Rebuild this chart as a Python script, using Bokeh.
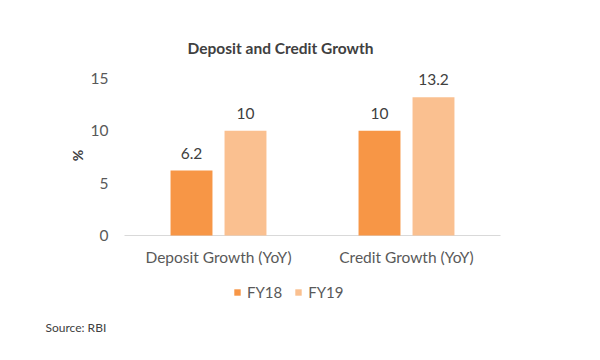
import math
from bokeh.plotting import figure
from bokeh.models import ColumnDataSource, Range1d, Label, Legend, LegendItem
from bokeh.transform import dodge
from bokeh.core.properties import value
from bokeh.embed import file_html
from bokeh.resources import INLINE

categories = ["Deposit Growth (YoY)", "Credit Growth (YoY)"]
series_names = ["FY18", "FY19"]
fy18 = [6.2, 10]
fy19 = [10, 13.2]
y_ticks = [0, 5, 10, 15]

FONT = "Lato"
C18 = "#F79646"
C19 = "#FAC090"
TXT = "#595959"
DARK = "#404040"

W, H = 584, 344
PX_X = 188.0      # pixels per category
PX_Y = 10.47      # pixels per percent
X0, Y0 = 218.0, 235.0   # pixel of first category centre / of value 0

idx = list(range(len(categories)))
src = ColumnDataSource(dict(
    x=idx,
    cat=categories,
    fy18=fy18,
    fy19=fy19,
    l18=[f"{v:g}" for v in fy18],
    l19=[f"{v:g}" for v in fy19],
))
tick_src = ColumnDataSource(dict(y=y_ticks, t=[str(t) for t in y_ticks]))

p = figure(width=W, height=H, output_backend="svg", toolbar_location=None,
           x_range=Range1d(-X0 / PX_X, (W - X0) / PX_X),
           y_range=Range1d(-(H - Y0) / PX_Y, Y0 / PX_Y),
           min_border=0, x_axis_type=None, y_axis_type=None)
p.outline_line_color = None
p.background_fill_color = "white"
p.border_fill_color = "white"
p.xgrid.grid_line_color = None
p.ygrid.grid_line_color = None

bw = 0.223
off = 0.1436
# baseline (category axis line)
p.segment(x0=[-0.5], y0=[0], x1=[len(categories) - 0.5], y1=[0],
          line_color="#D9D9D9", line_width=1)

r18 = p.vbar(x=dodge("x", -off), top="fy18", width=bw, source=src,
             fill_color=C18, line_color=None)
r19 = p.vbar(x=dodge("x", off), top="fy19", width=bw, source=src,
             fill_color=C19, line_color=None)

for col, lab, o in (("fy18", "l18", -off), ("fy19", "l19", off)):
    p.text(x=dodge("x", o), y=col, text=lab, source=src,
           text_align="center", text_baseline="bottom", y_offset=-12,
           text_font=value(FONT), text_font_size="15.5px", text_color=DARK)

# category labels
p.text(x="x", y=0, text="cat", source=src, text_align="center", text_baseline="top",
       y_offset=12, text_font=value(FONT), text_font_size="15.5px", text_color=TXT)

# value-axis tick labels
p.text(x=-0.5, y="y", text="t", source=tick_src, text_align="right",
       text_baseline="middle", x_offset=-16,
       text_font=value(FONT), text_font_size="15.5px", text_color=TXT)

p.add_layout(Label(x=280, y=H - 47, x_units="screen", y_units="screen",
                   text="Deposit and Credit Growth", text_align="center",
                   text_baseline="middle", text_font=FONT, text_font_size="15.5px",
                   text_font_style="bold", text_color=DARK))
p.add_layout(Label(x=77, y=H - 155, x_units="screen", y_units="screen", angle=math.pi / 2,
                   text="%", text_align="center", text_baseline="middle",
                   text_font=FONT, text_font_size="14px", text_font_style="bold",
                   text_color=DARK))
p.add_layout(Label(x=45, y=H - 327, x_units="screen", y_units="screen",
                   text="Source: RBI", text_align="left", text_baseline="middle",
                   text_font=FONT, text_font_size="12px", text_color=DARK))

legend = Legend(items=[LegendItem(label=series_names[0], renderers=[r18]),
                       LegendItem(label=series_names[1], renderers=[r19])],
                orientation="horizontal", location=(233, H - 301),
                glyph_width=8, glyph_height=8, label_standoff=6, spacing=12,
                padding=0, margin=0, border_line_color=None,
                background_fill_alpha=0,
                label_text_font=FONT, label_text_font_size="15px",
                label_text_color=TXT)
p.add_layout(legend, "center")

open("out.html", "w").write(file_html(p, INLINE))
